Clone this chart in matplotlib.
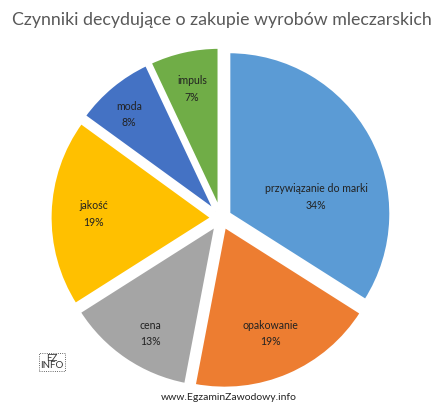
import numpy as np
import matplotlib
matplotlib.use("Agg")
import matplotlib.pyplot as plt

# data
labels = ["przywiązanie do marki", "opakowanie", "cena", "jakość", "moda", "impuls"]
values = [34, 19, 13, 19, 8, 7]
colors = ["#5B9BD5", "#ED7D31", "#A5A5A5", "#FFC000", "#4472C4", "#70AD47"]
title = "Czynniki decydujące o zakupie wyrobów mleczarskich"

plt.rcParams['font.family'] = ['Lato', 'DejaVu Sans']

W, H, DPI = 443, 404, 100
R_PX = 162          # pie radius in pixels
CX, CY = 221, 186   # pie centre in pixels (from bottom-left)

fig = plt.figure(figsize=(W / DPI, H / DPI), dpi=DPI)
ax = fig.add_axes([0, 0, 1, 1])

wedges, _ = ax.pie(values, colors=colors, startangle=90, counterclock=False,
                   explode=[0.055] * len(values),
                   wedgeprops=dict(edgecolor="white", linewidth=2.2))

ax.set_xlim(-CX / R_PX, (W - CX) / R_PX)
ax.set_ylim(-CY / R_PX, (H - CY) / R_PX)
ax.set_aspect('auto')
ax.axis('off')

# label placement: (radius fraction, angle shift in degrees) per slice
label_pos = [(0.55, -18), (0.72, 0), (0.78, 3), (0.73, 0), (0.80, 2), (0.76, 0)]
for w, lab, v, (rf, da) in zip(wedges, labels, values, label_pos):
    ang = np.deg2rad((w.theta1 + w.theta2) / 2 + da)
    cx, cy = w.center
    ax.text(cx + rf * np.cos(ang), cy + rf * np.sin(ang), f"{lab}\n{v}%",
            ha="center", va="center", fontsize=7.6, color="#222222",
            linespacing=1.6)

fig.text(0.5, 1 - 20 / H, title, ha="center", va="center",
         fontsize=12.8, color="#595959")

fig.text(229 / W, 1 - 397 / H, "www.EgzaminZawodowy.info", ha="center",
         va="center", fontsize=7.5, color="#222222")
fig.text(52 / W, 1 - 362 / H, "EZ\nINFO", ha="center", va="center",
         fontsize=7, color="#333333", linespacing=0.85,
         bbox=dict(boxstyle="square,pad=0.1", fc="white", ec="#333333",
                   ls=":", lw=0.6))

fig.savefig("out.png", dpi=DPI)
